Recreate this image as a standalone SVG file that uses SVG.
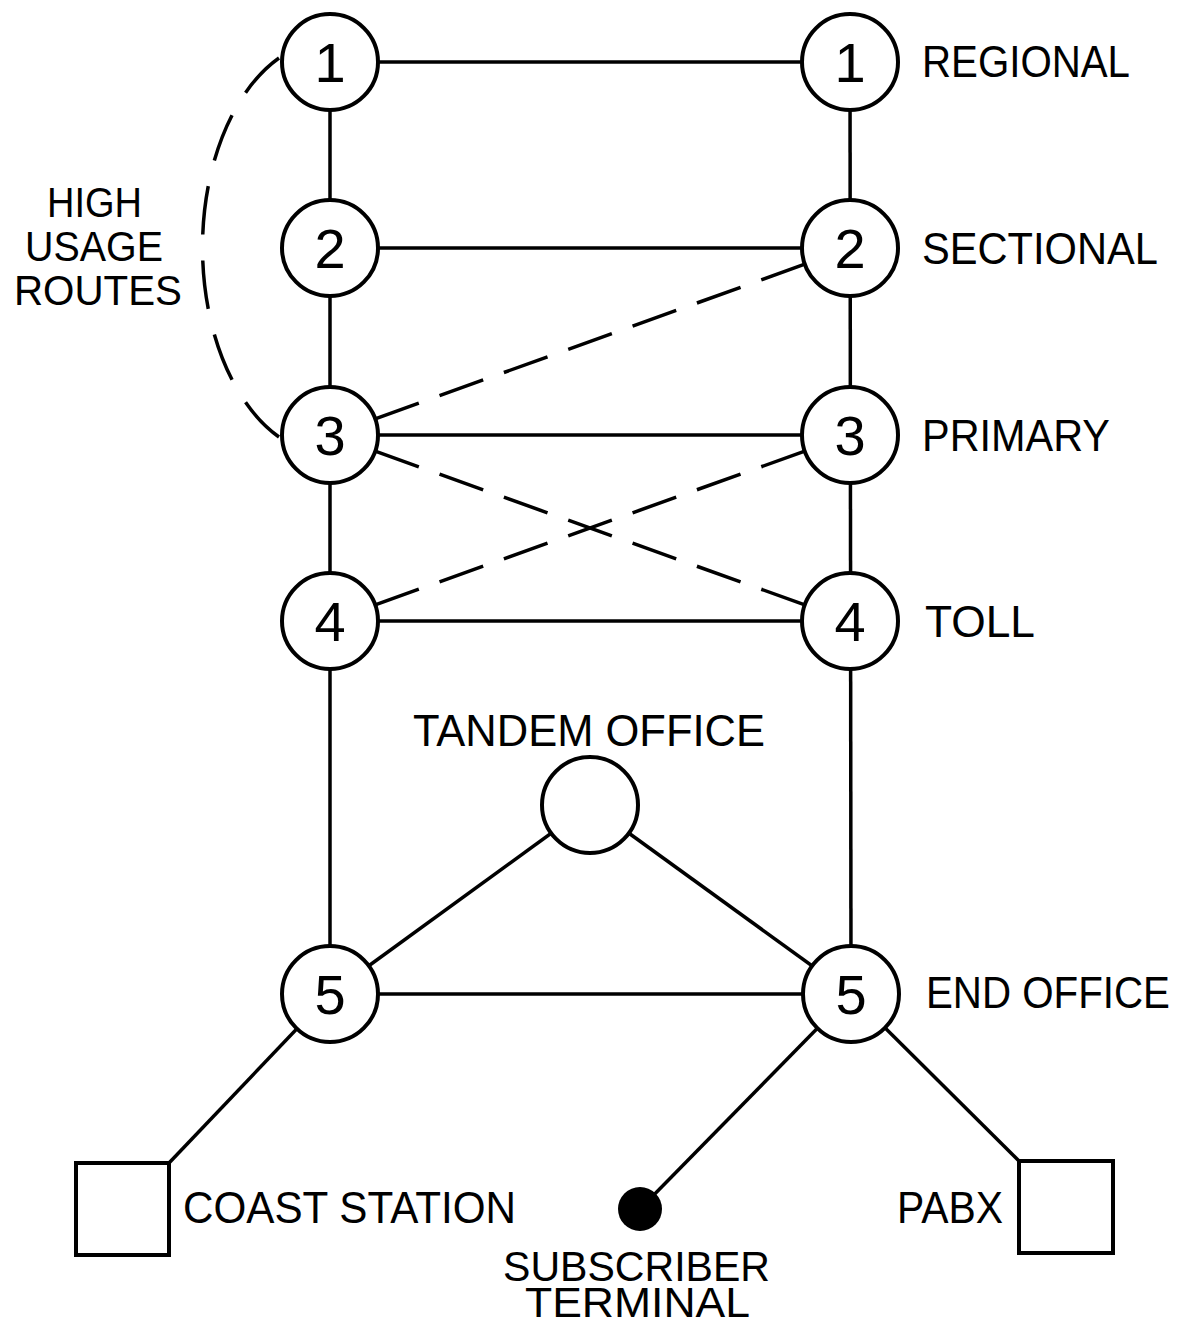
<svg xmlns="http://www.w3.org/2000/svg" width="1180" height="1324" viewBox="0 0 1180 1324">
<style>
.ln{stroke:#000;stroke-width:3.5;fill:none;stroke-linecap:butt}
.dash{stroke:#000;stroke-width:3.5;fill:none;stroke-dasharray:46.3 22}
.arc{stroke:#000;stroke-width:3.5;fill:none;stroke-dasharray:48 26}
.node{fill:#fff;stroke:#000;stroke-width:4}
.num{font-family:"Liberation Sans",Arial,sans-serif;font-size:56px;text-anchor:middle;fill:#000}
.lbl{font-family:"Liberation Sans",Arial,sans-serif;font-size:44px;fill:#000}
.lbl2{font-family:"Liberation Sans",Arial,sans-serif;font-size:42px;fill:#000}
</style>
<rect width="1180" height="1324" fill="#fff"/>
<g id="connectors">
<line class="ln" x1="330" y1="62" x2="850" y2="62"/>
<line class="ln" x1="330" y1="248" x2="850" y2="248"/>
<line class="ln" x1="330" y1="435" x2="850" y2="435"/>
<line class="ln" x1="330" y1="621" x2="850" y2="621"/>
<line class="ln" x1="330" y1="994" x2="851" y2="994"/>
<line class="ln" x1="330" y1="62" x2="330" y2="994"/>
<line class="ln" x1="850" y1="62" x2="851" y2="994"/>
<line class="ln" x1="590" y1="805" x2="330" y2="994"/>
<line class="ln" x1="590" y1="805" x2="851" y2="994"/>
<line class="ln" x1="330" y1="994" x2="169" y2="1163"/>
<line class="ln" x1="851" y1="994" x2="1019" y2="1161"/>
<line class="ln" x1="851" y1="994" x2="640" y2="1209"/>
<path class="dash" pathLength="456" d="M375.2 418.8 L804.8 264.2"/>
<path class="dash" pathLength="456" d="M375.2 451.2 L804.8 604.8"/>
<path class="dash" pathLength="456" d="M375.2 604.8 L804.8 451.2"/>
<path class="arc" pathLength="418" d="M279 58 A128 207 0 0 0 279 437"/>
</g>
<g id="n-l1"><circle class="node" cx="330" cy="62" r="48"/><text class="num" x="330" y="82">1</text></g>
<g id="n-l2"><circle class="node" cx="330" cy="248" r="48"/><text class="num" x="330" y="268">2</text></g>
<g id="n-l3"><circle class="node" cx="330" cy="435" r="48"/><text class="num" x="330" y="455">3</text></g>
<g id="n-l4"><circle class="node" cx="330" cy="621" r="48"/><text class="num" x="330" y="641">4</text></g>
<g id="n-l5"><circle class="node" cx="330" cy="994" r="48"/><text class="num" x="330" y="1014">5</text></g>
<g id="n-r1"><circle class="node" cx="850" cy="62" r="48"/><text class="num" x="850" y="82">1</text></g>
<g id="n-r2"><circle class="node" cx="850" cy="248" r="48"/><text class="num" x="850" y="268">2</text></g>
<g id="n-r3"><circle class="node" cx="850" cy="435" r="48"/><text class="num" x="850" y="455">3</text></g>
<g id="n-r4"><circle class="node" cx="850" cy="621" r="48"/><text class="num" x="850" y="641">4</text></g>
<g id="n-r5"><circle class="node" cx="851" cy="994" r="48"/><text class="num" x="851" y="1014">5</text></g>
<g id="n-tandem"><circle class="node" cx="590" cy="805" r="48"/><text class="lbl" x="413" y="746" textLength="352" lengthAdjust="spacingAndGlyphs">TANDEM OFFICE</text></g>
<g id="n-coast"><rect class="node" x="76" y="1163" width="93" height="92"/><text class="lbl" x="183" y="1223" textLength="333" lengthAdjust="spacingAndGlyphs">COAST STATION</text></g>
<g id="n-pabx"><rect class="node" x="1019" y="1161" width="94" height="92"/><text class="lbl" x="897" y="1223" textLength="106" lengthAdjust="spacingAndGlyphs">PABX</text></g>
<g id="n-subscriber"><circle cx="640" cy="1209" r="22" fill="#000"/><text class="lbl2" x="503" y="1281" textLength="267" lengthAdjust="spacingAndGlyphs">SUBSCRIBER</text><text class="lbl2" x="525" y="1317" textLength="225" lengthAdjust="spacingAndGlyphs">TERMINAL</text></g>
<g id="labels">
<text class="lbl" x="922" y="77" textLength="208" lengthAdjust="spacingAndGlyphs">REGIONAL</text>
<text class="lbl" x="922" y="264" textLength="236" lengthAdjust="spacingAndGlyphs">SECTIONAL</text>
<text class="lbl" x="922" y="451" textLength="188" lengthAdjust="spacingAndGlyphs">PRIMARY</text>
<text class="lbl" x="925" y="637" textLength="110" lengthAdjust="spacingAndGlyphs">TOLL</text>
<text class="lbl" x="926" y="1008" textLength="244" lengthAdjust="spacingAndGlyphs">END OFFICE</text>
<text class="lbl2" x="47" y="217" textLength="95" lengthAdjust="spacingAndGlyphs">HIGH</text>
<text class="lbl2" x="25" y="261" textLength="138" lengthAdjust="spacingAndGlyphs">USAGE</text>
<text class="lbl2" x="14" y="305" textLength="168" lengthAdjust="spacingAndGlyphs">ROUTES</text>
</g>
</svg>
